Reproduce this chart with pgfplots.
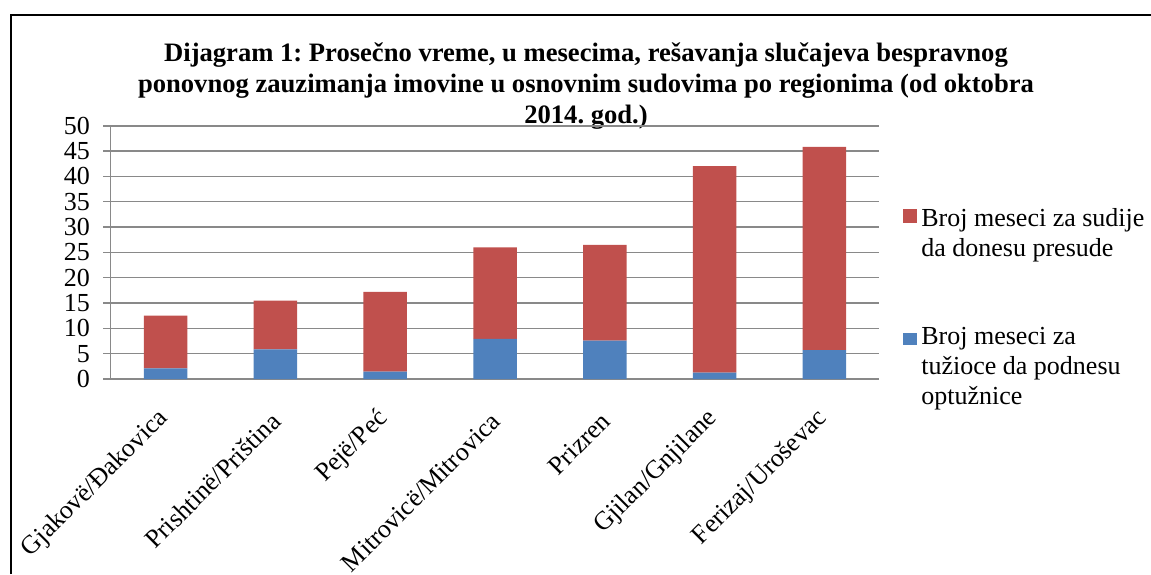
\documentclass[border=0pt]{standalone}
\usepackage{pgfplots}
\pgfplotsset{compat=1.18}
\usepackage{fontspec}
\setmainfont{Liberation Serif}
\frenchspacing
\definecolor{redbar}{HTML}{C0504D}
\definecolor{bluebar}{HTML}{4F81BD}
\definecolor{gridgray}{HTML}{898989}
\begin{document}
\begin{tikzpicture}
\useasboundingbox (0,0) rectangle (575.5pt,287pt);
\draw[line width=1pt] (5.5pt,0pt) -- (5.5pt,279.5pt) -- (575.5pt,279.5pt);
\node[anchor=north, align=center, inner sep=0pt, font=\bfseries\fontsize{13.3}{15.5}\selectfont] at (293pt,266pt)
 {Dijagram 1: Prosečno vreme, u mesecima, rešavanja slučajeva bespravnog\\
  ponovnog zauzimanja imovine u osnovnim sudovima po regionima (od oktobra\\
  2014. god.)};
\begin{axis}[
  at={(55.35pt,97.5pt)}, anchor=south west,
  scale only axis, width=384.3pt, height=126.65pt,
  xmin=-0.5, xmax=6.5, ymin=0, ymax=50,
  ybar stacked, bar width=21.75pt,
  axis x line*=bottom, axis y line*=left,
  axis line style={gridgray, line width=0.8pt, -},
  ytick={0,5,...,50},
  ymajorgrids, grid style={gridgray, line width=0.8pt},
  tick align=outside,
  tick style={gridgray, line width=0.8pt},
  major tick length=3.7pt,
  xtick={0,...,6},
  x tick style={draw=none},
  extra x ticks={-0.5,0.5,1.5,2.5,3.5,4.5,5.5,6.5},
  extra x tick labels={},
  extra x tick style={tick style={gridgray, line width=0.8pt}, major tick length=3pt, grid=none},
  xticklabels={Gjakovë/Đakovica, Prishtinë/Priština, Pejë/Peć, Mitrovicë/Mitrovica, Prizren, Gjilan/Gnjilane, Ferizaj/Uroševac},
  /pgf/number format/assume math mode=true,
  tick label style={font=\fontsize{13}{15}\selectfont},
  xticklabel style={xshift=3.8pt, yshift=-18.5pt, rotate=45, anchor=south east, inner sep=0pt},
  yticklabel style={anchor=east, inner sep=0pt, xshift=-6.5pt},
  legend style={draw=none, fill=none, at={(1.023,0.707)}, anchor=north west,
    font=\fontsize{13}{15}\selectfont, cells={anchor=base west, align=left}, row sep=30pt},
  reverse legend,
]
\addplot[fill=bluebar, draw=none,
  legend image code/.code={\fill[bluebar] (0pt,30pt) rectangle (7pt,36pt);}]
  coordinates {(0,2.1) (1,5.85) (2,1.45) (3,7.9) (4,7.6) (5,1.25) (6,5.7)};
\addlegendentry{Broj meseci za\\tužioce da podnesu\\optužnice}
\addplot[fill=redbar, draw=none,
  legend image code/.code={\fill[redbar] (0pt,16.5pt) rectangle (7pt,23.5pt);}]
  coordinates {(0,10.4) (1,9.6) (2,15.75) (3,18.1) (4,18.9) (5,40.75) (6,40.1)};
\addlegendentry{Broj meseci za sudije\\da donesu presude}
\end{axis}
\end{tikzpicture}
\end{document}
